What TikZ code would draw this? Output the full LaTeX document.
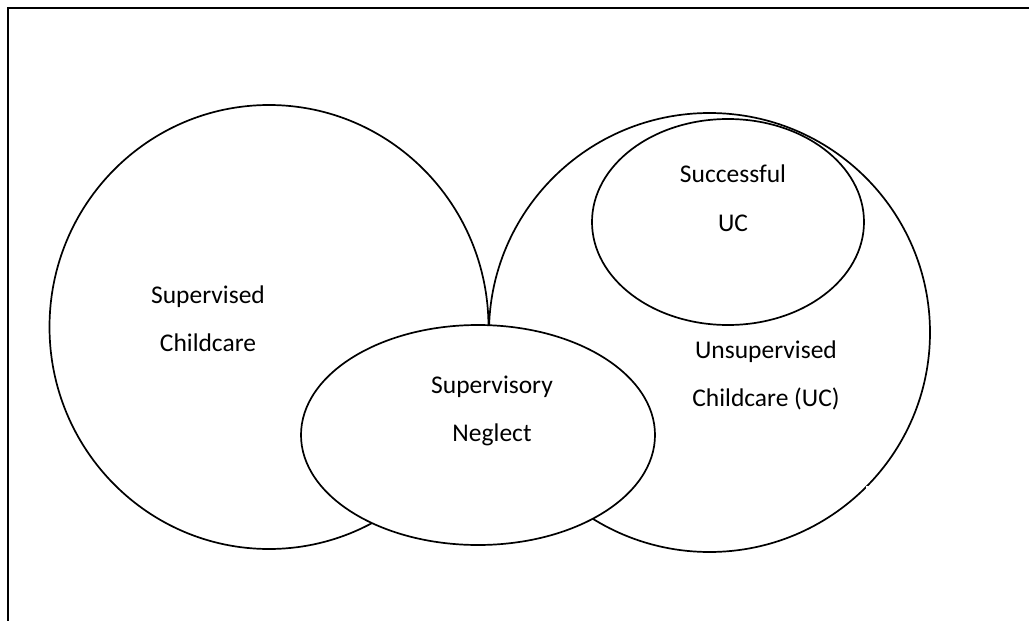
\documentclass[tikz,border=0pt]{standalone}
\usepackage{fontspec}
\setmainfont{Carlito}
\usetikzlibrary{shapes.geometric}
\begin{document}
\begin{tikzpicture}[x=1pt,y=-1pt,
  setshape/.style={draw=black, ellipse, line width=1.7pt, inner sep=0pt},
  lbl/.style={anchor=base, inner sep=0pt, font=\fontsize{25.5}{30}\selectfont}]
\useasboundingbox (0,0) rectangle (1029,621);
\fill[white] (0,0) rectangle (1029,621);
% frame (cropped on right and bottom)
\draw[line width=2.4pt] (8,621) -- (8,8) -- (1029,8);
% sets
\node[setshape, minimum width=439pt, minimum height=444pt] (sc) at (269,327) {};
\node[setshape, minimum width=441pt, minimum height=439pt] (uc) at (709.5,332.5) {};
\node[setshape, minimum width=272pt, minimum height=206pt] (suc) at (728,222) {};
\node[setshape, fill=white, minimum width=354pt, minimum height=220pt] (sn) at (478,435) {};
% small break in the outer line
\fill[white] (865.5,485.5) rectangle (868.5,488.5);
% labels
\node[lbl] (t1) at (208,303) {Supervised};
\node[lbl] (t2) at (208,351) {Childcare};
\node[lbl] (t3) at (492,393) {Supervisory};
\node[lbl] (t4) at (492,441) {Neglect};
\node[lbl] (t5) at (766,358) {Unsupervised};
\node[lbl] (t6) at (766,406) {Childcare (UC)};
\node[lbl] (t7) at (733,182) {Successful};
\node[lbl] (t8) at (733,231) {UC};
\end{tikzpicture}
\end{document}
